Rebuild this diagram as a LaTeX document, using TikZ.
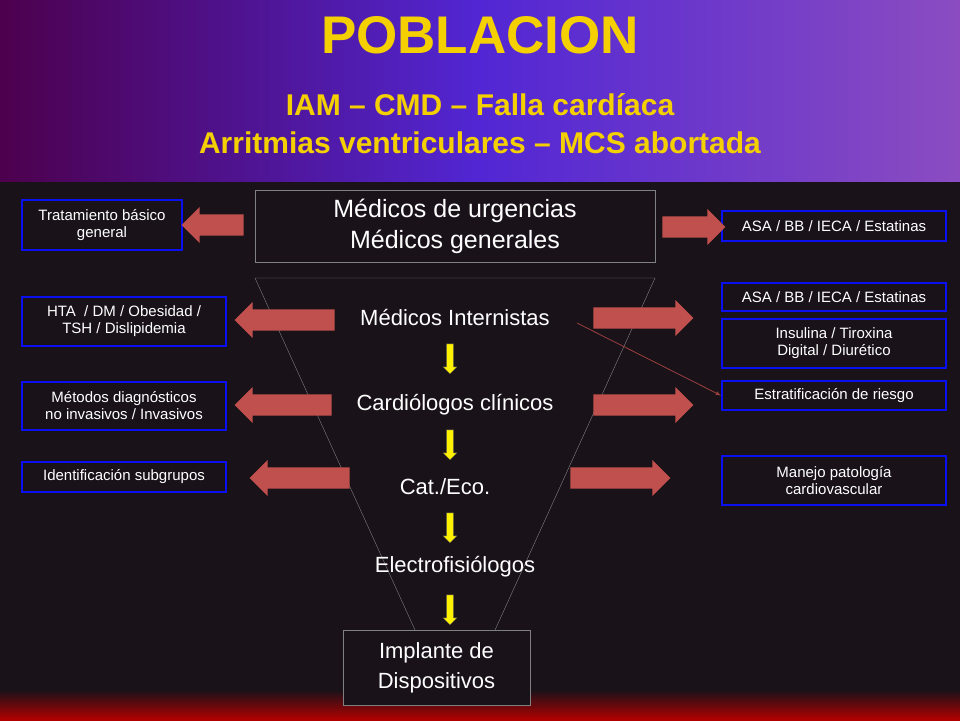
\documentclass[tikz,border=0pt]{standalone}
\usepackage{fontspec}
\setmainfont{Liberation Sans}
\usetikzlibrary{shapes.arrows,positioning}
\definecolor{fatred}{HTML}{C0504D}
\definecolor{ttlyellow}{HTML}{F5D000}
\definecolor{bgdark}{HTML}{1A1219}
\definecolor{boxblue}{HTML}{0A10F0}
\begin{document}
\begin{tikzpicture}[x=1pt,y=-1pt,
                    fat/.style={single arrow,fill=fatred,draw=none,minimum width=36pt,
                                single arrow head extend=7pt,single arrow head indent=0pt,inner sep=10pt},
                    down/.style={single arrow,fill=yellow,draw=black!70,thin,minimum width=14pt,
                                 minimum height=30pt,single arrow head extend=3pt,inner sep=3pt,shape border rotate=270},
                    side/.style={draw=boxblue,line width=2pt,text=white,align=center,
                                 font=\fontsize{15}{17}\selectfont,inner sep=0pt},
                    level/.style={text=white,align=center,font=\fontsize{22}{26}\selectfont}
                    ]
% background
\useasboundingbox (0,0) rectangle (960,720);
\shade[left color=red!50!blue!60!black,right color=violet!70!blue!70,middle color=blue!60!violet!85]
  (0,0) rectangle (960,182);
\fill[bgdark] (0,182) rectangle (960,705);
\shade[top color=bgdark,bottom color=red!70!black] (0,690) rectangle (960,720);

% titles
\node[text=ttlyellow,font=\fontsize{53}{56}\bfseries\selectfont] (title) at (480,35) {POBLACION};
\node[text=ttlyellow,align=center,font=\fontsize{30}{38}\bfseries\selectfont] (sub) at (480,124)
  {IAM -- CMD -- Falla cardíaca\\Arritmias ventriculares -- MCS abortada};

% funnel
\node[draw=gray,thin,minimum width=400pt,minimum height=72pt,level,font=\fontsize{25}{31}\selectfont] (urg) at (455,226)
  {Médicos de urgencias\\Médicos generales};
\coordinate (tl) at (255,278);
\coordinate (tr) at (655,278);
\coordinate (bl) at (415,630);
\coordinate (br) at (495,630);
\draw[gray,thin] (bl) -- (tl) -- (tr) -- (br);
\node[draw=gray,thin,fill=bgdark,minimum width=187pt,minimum height=75pt,level,font=\fontsize{22}{30}\selectfont] (imp) at (436.5,667.5)
  {Implante de\\Dispositivos};

\node[level] (int) at (455,318) {Médicos Internistas};
\node[level] (car) at (455,405) {Cardiólogos clínicos};
\node[level] (cat) at (445,487) {Cat./Eco.};
\node[level] (ele) at (455,567) {Electrofisiólogos};

\node[down] (d1) at (450,357) {};
\node[down] (d2) at (450,443) {};
\node[down] (d3) at (450,526) {};
\node[down] (d4) at (450,608) {};

% left boxes
\node[side,minimum width=160pt,minimum height=50pt] (l1) at (102,225) {Tratamiento básico\\general};
\node[side,minimum width=204pt,minimum height=49pt] (l2) at (124,321.5) {HTA \ / DM / Obesidad /\\TSH / Dislipidemia};
\node[side,minimum width=204pt,minimum height=48pt] (l3) at (124,406) {Métodos diagnósticos\\no invasivos / Invasivos};
\node[side,minimum width=204pt,minimum height=30pt] (l4) at (124,477) {Identificación subgrupos};

\node[fat,minimum height=62pt,shape border rotate=180] (al1) at (218,225) {};
\node[fat,minimum height=100pt,shape border rotate=180] (al2) at (290,320) {};
\node[fat,minimum height=97pt,shape border rotate=180] (al3) at (288.5,405) {};
\node[fat,minimum height=100pt,shape border rotate=180] (al4) at (305,478) {};

% right boxes
\node[side,minimum width=224pt,minimum height=30pt] (r1) at (834,226) {ASA / BB / IECA / Estatinas};
\node[side,minimum width=224pt,minimum height=28pt] (r2) at (834,297) {ASA / BB / IECA / Estatinas};
\node[side,minimum width=224pt,minimum height=49pt] (r3) at (834,343.5) {Insulina / Tiroxina\\Digital / Diurético};
\node[side,minimum width=224pt,minimum height=29pt] (r4) at (834,395.5) {Estratificación de riesgo};
\node[side,minimum width=224pt,minimum height=49pt] (r5) at (834,480.5) {Manejo patología\\cardiovascular};

\node[fat,minimum height=63pt] (ar1) at (688.5,227) {};
\node[fat,minimum height=100pt] (ar2) at (638,318) {};
\node[fat,minimum height=100pt] (ar3) at (638,405) {};
\node[fat,minimum height=100pt] (ar4) at (615,478) {};

\coordinate (cross) at (577,323);
\draw[-latex,fatred!80!black,thick] (cross) -- (r4.west);
\end{tikzpicture}
\end{document}
